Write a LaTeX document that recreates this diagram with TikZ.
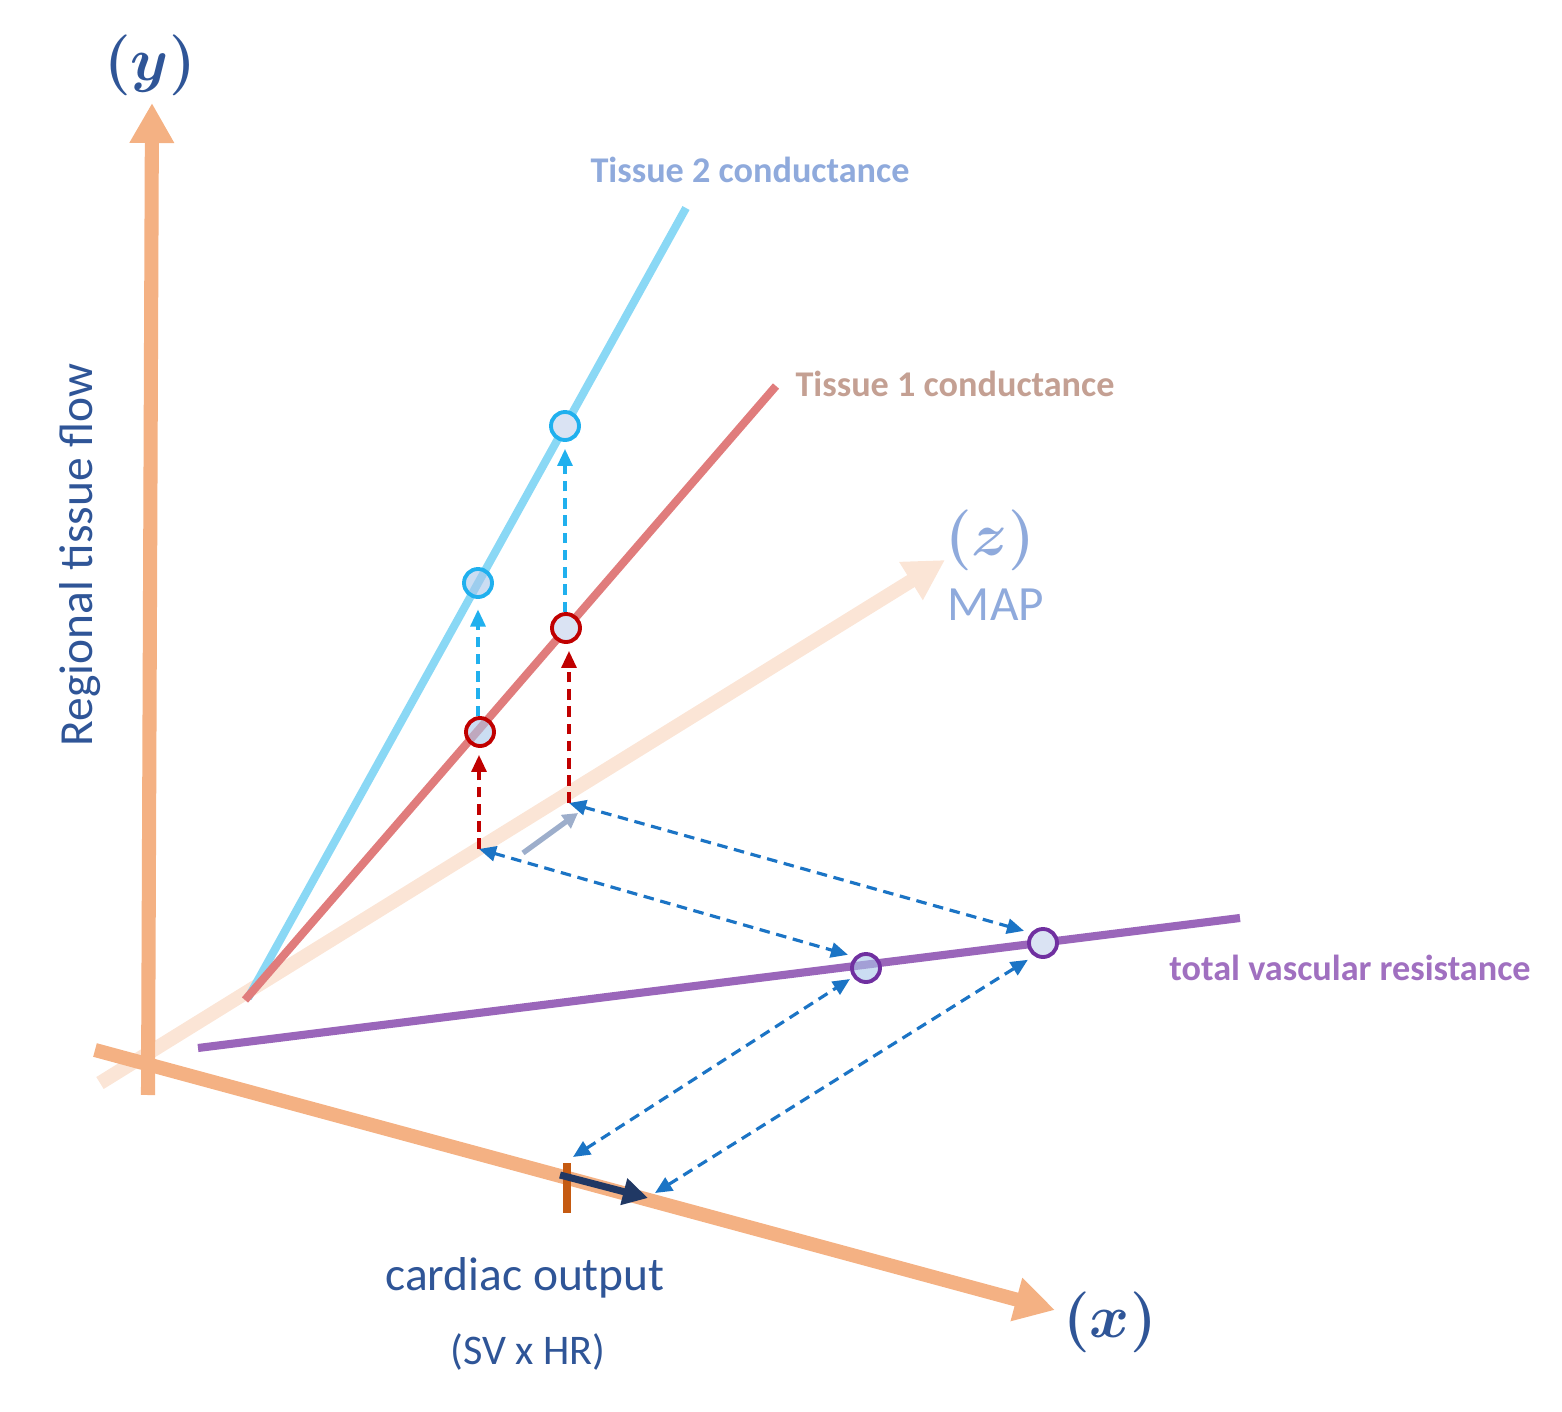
\documentclass[tikz,border=0pt]{standalone}
\usepackage{fontspec}
\setmainfont{Carlito}
\usepackage{bm}
\usetikzlibrary{arrows.meta, positioning}

\definecolor{axisorange}{HTML}{F4B183}
\definecolor{zpeach}{HTML}{FBE5D6}
\definecolor{tisstwo}{HTML}{8AD8F5}
\definecolor{tissone}{HTML}{E07C7C}
\definecolor{tvrpurple}{HTML}{9A66BA}
\definecolor{ptred}{HTML}{C00000}
\definecolor{ptcyan}{HTML}{20B0EE}
\definecolor{ptpurple}{HTML}{7030A0}
\definecolor{ptfill}{HTML}{DAE3F3}
\definecolor{ptold}{HTML}{A9C6EA}
\definecolor{linkblue}{HTML}{1B74C5}
\definecolor{shiftgray}{HTML}{9DAECB}
\definecolor{navy}{HTML}{203864}
\definecolor{tickorange}{HTML}{C55A11}
\definecolor{textnavy}{HTML}{2F5597}
\definecolor{lightblue}{HTML}{8FAADC}
\definecolor{tantext}{HTML}{C4A093}
\definecolor{purpletext}{HTML}{A070C0}

\begin{document}
\begin{tikzpicture}[x=0.01cm,y=-0.01cm,
 axis/.style={line width=4pt,color=axisorange,-{Triangle[length=0.4cm,width=0.42cm]}},
 curve/.style={line width=2.3pt},
 pt/.style={circle,draw,line width=1.1pt,minimum size=0.28cm,inner sep=0pt,fill=ptfill},
 ptold/.style={pt,fill=ptold,fill opacity=0.6,draw opacity=1},
 flow/.style={line width=0.9pt,dash pattern=on 3pt off 1.9pt,-{Triangle[length=0.17cm,width=0.15cm]}},
 link/.style={flow,color=linkblue,{Triangle[length=0.17cm,width=0.15cm]}-{Triangle[length=0.17cm,width=0.15cm]}},
 lbl/.style={font=\bfseries\fontsize{10.3}{12}\selectfont}]

 \useasboundingbox (0,0) rectangle (1562,1412);

 % axes
 \draw[axis,color=zpeach] (100,1083) -- (945,560);
 \draw[axis] (148,1095) -- (152,103);
 \draw[axis] (95,1050) -- (1055,1310);

 % lines
 \draw[curve,color=tvrpurple] (198,1048) -- (1240,918);
 \draw[curve,color=tisstwo] (248,998) -- (686,208) coordinate (t2end);
 \draw[curve,color=tissone] (245,1000) -- (776,386) coordinate (t1end);

 % operating points
 \coordinate (z1) at (479,849);
 \coordinate (z2) at (569,803);
 \coordinate (x1) at (573,1157);
 \coordinate (x2) at (655,1193);

 \node[ptold,draw=ptred] (r1) at (480,732) {};
 \node[ptold,draw=ptcyan] (b1) at (478,583) {};
 \node[ptold,draw=ptpurple] (p1) at (866,968) {};
 \node[pt,draw=ptred] (r2) at (566,628) {};
 \node[pt,draw=ptcyan] (b2) at (565,426) {};
 \node[pt,draw=ptpurple] (p2) at (1043,943) {};

 % flows
 \draw[flow,color=ptred,shorten >=2pt] (z1) -- (z1 |- r1.south);
 \draw[flow,color=ptred,shorten >=2pt] (z2) -- (z2 |- r2.south);
 \draw[flow,color=ptcyan,shorten >=3pt] (r1.north -| b1) -- (b1);
 \draw[flow,color=ptcyan,shorten >=2pt] (r2.north -| b2) -- (b2);

 \draw[link,shorten >=2pt] (z1) -- (p1.135);
 \draw[link,shorten >=2pt] (z2) -- (p2.140);
 \draw[link,shorten >=1pt] (x1) -- (p1.215);
 \draw[link,shorten >=2pt] (x2) -- (p2.235);

 % shifts
 \draw[line width=1.5pt,color=shiftgray,-{Triangle[length=0.15cm,width=0.16cm]}] (523,853) -- (578,813);
 \draw[line width=2.3pt,color=tickorange] (567,1163) -- (567,1213);
 \draw[line width=2pt,color=navy,-{Triangle[length=0.25cm,width=0.26cm]}] (560,1175) -- (648,1198);

 % labels
 \node[text=textnavy,font=\fontsize{17}{20}\selectfont] (ylbl) at (150,65) {$\bm{(y)}$};
 \node[text=textnavy,font=\fontsize{17}{20}\selectfont] (xlbl) at (1110,1322) {$\bm{(x)}$};
 \node[text=lightblue,font=\fontsize{17}{20}\selectfont] (zlbl) at (990,540) {$\bm{(z)}$};
 \node[text=lightblue,font=\fontsize{14}{16}\selectfont] (map) at (996,605) {MAP};
 \node[text=textnavy,font=\fontsize{13.5}{16}\selectfont,rotate=90] (flowlbl) at (80,555) {Regional tissue flow};
 \node[text=textnavy,font=\fontsize{13.5}{16}\selectfont] (co) at (525,1278) {cardiac output};
 \node[text=textnavy,font=\fontsize{12}{14}\selectfont] (svhr) at (528,1352) {(SV x HR)};
 \node[lbl,text=lightblue] (t2lbl) at (750,170) {Tissue 2 conductance};
 \node[lbl,text=tantext] (t1lbl) at (955,384) {Tissue 1 conductance};
 \node[lbl,text=purpletext] (tvrlbl) at (1350,968) {total vascular resistance};

\end{tikzpicture}
\end{document}
